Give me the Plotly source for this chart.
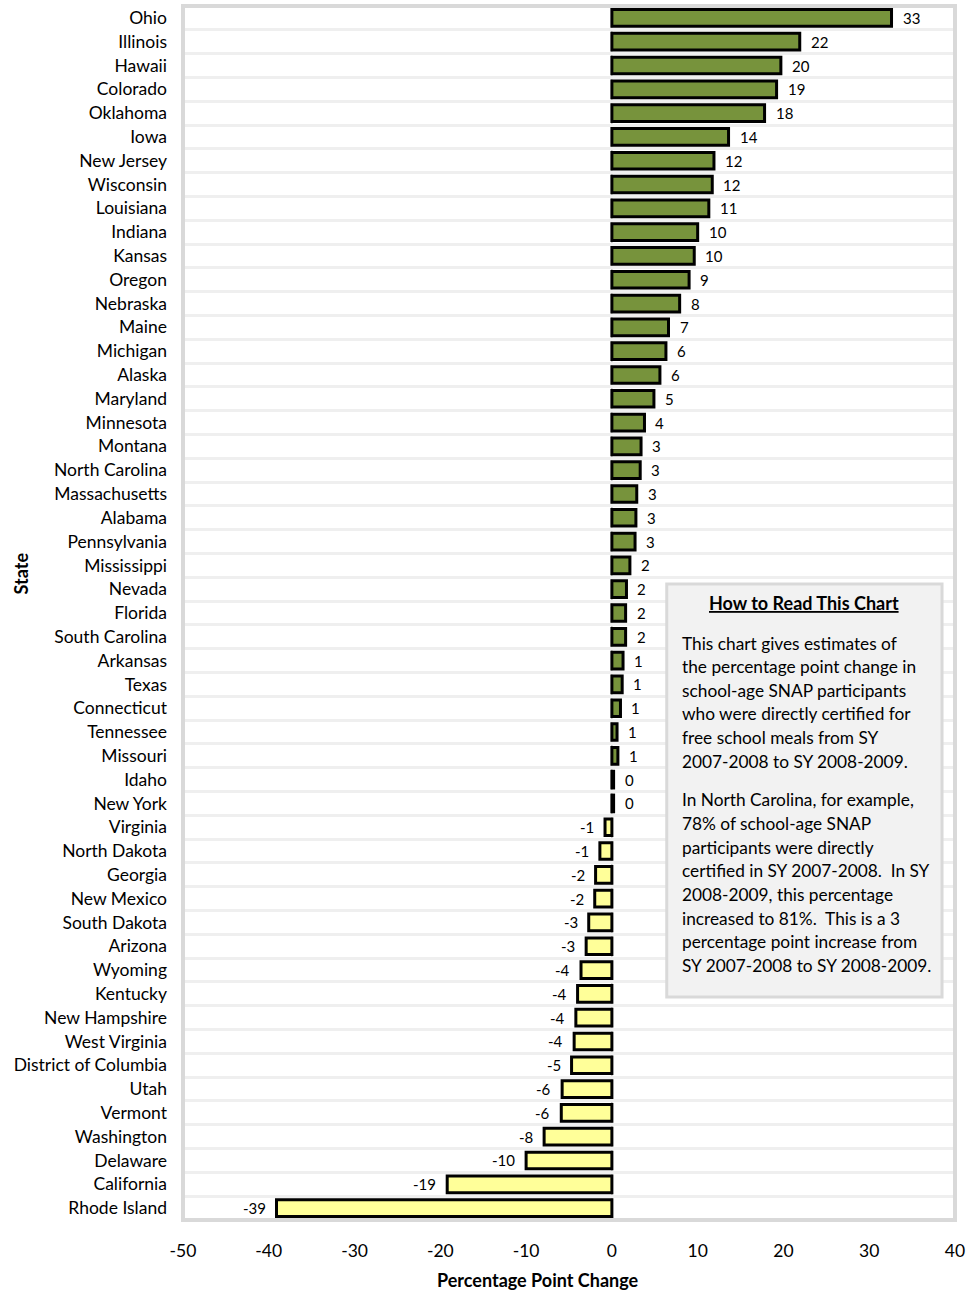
import plotly.graph_objects as go

# Percentage point change in direct certification, SY 2007-08 to SY 2008-09
states = [
    "Ohio", "Illinois", "Hawaii", "Colorado", "Oklahoma", "Iowa", "New Jersey",
    "Wisconsin", "Louisiana", "Indiana", "Kansas", "Oregon", "Nebraska", "Maine",
    "Michigan", "Alaska", "Maryland", "Minnesota", "Montana", "North Carolina",
    "Massachusetts", "Alabama", "Pennsylvania", "Mississippi", "Nevada", "Florida",
    "South Carolina", "Arkansas", "Texas", "Connecticut", "Tennessee", "Missouri",
    "Idaho", "New York", "Virginia", "North Dakota", "Georgia", "New Mexico",
    "South Dakota", "Arizona", "Wyoming", "Kentucky", "New Hampshire",
    "West Virginia", "District of Columbia", "Utah", "Vermont", "Washington",
    "Delaware", "California", "Rhode Island",
]
changes = [
    32.6, 21.9, 19.7, 19.2, 17.8, 13.6, 11.9,
    11.7, 11.3, 10.0, 9.6, 9.0, 7.9, 6.6,
    6.3, 5.6, 4.9, 3.8, 3.4, 3.3,
    2.9, 2.8, 2.7, 2.1, 1.7, 1.6,
    1.6, 1.3, 1.2, 1.0, 0.6, 0.7,
    0.2, 0.2, -0.8, -1.4, -1.9, -2.0,
    -2.7, -3.0, -3.6, -4.0, -4.2,
    -4.4, -4.7, -5.8, -5.9, -7.9,
    -10.0, -19.2, -39.1,
]
x_ticks = [-50, -40, -30, -20, -10, 0, 10, 20, 30, 40]

note_title = "How to Read This Chart"
note_lines_1 = [
    "This chart gives estimates of",
    "the percentage point change in",
    "school-age SNAP participants",
    "who were directly certified for",
    "free school meals from SY",
    "2007-2008 to SY 2008-2009.",
]
note_lines_2 = [
    "In North Carolina, for example,",
    "78% of school-age SNAP",
    "participants were directly",
    "certified in SY 2007-2008.  In SY",
    "2008-2009, this percentage",
    "increased to 81%.  This is a 3",
    "percentage point increase from",
    "SY 2007-2008 to SY 2008-2009.",
]

FONT = "Lato"
W, H = 971, 1292
ML, MR, MT, MB = 183, 14, 6, 72
PW, PH = W - ML - MR, H - MT - MB


def px_x(p):
    return (p - ML) / PW


def px_y(p):
    return (MT + PH - p) / PH


colors = ["#77933C" if v >= 0 else "#FFFF99" for v in changes]
labels = [f"{v:.0f}" for v in changes]

fig = go.Figure()
fig.add_trace(go.Bar(
    x=changes, y=states, orientation="h",
    marker=dict(color=colors, line=dict(color="black", width=3)),
    hoverinfo="x+y",
))

annotations = []
for s, v, lab in zip(states, changes, labels):
    annotations.append(dict(
        x=v, y=s, xref="x", yref="y", text=lab, showarrow=False,
        xanchor="left" if v >= 0 else "right",
        xshift=9 if v >= 0 else -9,
        font=dict(family=FONT, size=15, color="black"),
    ))

# Explanatory note box
annotations.append(dict(
    x=px_x(806), y=px_y(603), xref="paper", yref="paper",
    text=f"<b><u>{note_title}</u></b>", showarrow=False,
    xanchor="center", yanchor="middle",
    font=dict(family=FONT, size=18, color="black"),
))
for i, line in enumerate(note_lines_1):
    annotations.append(dict(
        x=px_x(681), y=px_y(643 + i * 23.6), xref="paper", yref="paper",
        text=line, showarrow=False, xanchor="left", yanchor="middle",
        font=dict(family=FONT, size=17.3, color="black"),
    ))
for i, line in enumerate(note_lines_2):
    annotations.append(dict(
        x=px_x(681), y=px_y(800 + i * 23.6), xref="paper", yref="paper",
        text=line, showarrow=False, xanchor="left", yanchor="middle",
        font=dict(family=FONT, size=17.3, color="black"),
    ))

# Axis titles
annotations.append(dict(
    x=px_x(539), y=px_y(1280), xref="paper", yref="paper",
    text="<b>Percentage Point Change</b>", showarrow=False,
    xanchor="center", yanchor="middle",
    font=dict(family=FONT, size=18, color="black"),
))
annotations.append(dict(
    x=px_x(21), y=px_y(573), xref="paper", yref="paper",
    text="<b>State</b>", showarrow=False, textangle=-90,
    xanchor="center", yanchor="middle",
    font=dict(family=FONT, size=18, color="black"),
))

shapes = [
    # zero line
    dict(type="line", xref="x", yref="paper", x0=0, x1=0, y0=0, y1=1,
         line=dict(color="#a6a6a6", width=1), layer="below"),
    # plot frame
    dict(type="rect", xref="paper", yref="paper", x0=0, x1=1, y0=0, y1=1,
         line=dict(color="#d9d9d9", width=4), layer="above"),
    # note box
    dict(type="rect", xref="paper", yref="paper",
         x0=px_x(668), x1=px_x(944), y0=px_y(997), y1=px_y(584),
         fillcolor="#f2f2f2", line=dict(color="#d9d9d9", width=3), layer="above"),
]

fig.update_layout(
    width=W, height=H,
    margin=dict(l=ML, r=MR, t=MT, b=MB),
    paper_bgcolor="white", plot_bgcolor="white",
    showlegend=False, bargap=0.3,
    font=dict(family=FONT, size=16, color="black"),
    annotations=annotations, shapes=shapes,
    xaxis=dict(
        range=[-50, 40], tickvals=x_ticks, ticktext=[str(t) for t in x_ticks],
        showgrid=False, zeroline=False, showline=False, ticks="",
        ticklabelstandoff=18, tickfont=dict(family=FONT, size=17.5, color="black"),
        fixedrange=True,
    ),
    yaxis=dict(
        categoryorder="array", categoryarray=states, autorange="reversed",
        showgrid=True, gridcolor="#efefef", gridwidth=3, tickson="boundaries",
        zeroline=False, showline=False, ticks="", ticklabelstandoff=15,
        tickfont=dict(family=FONT, size=17.5, color="black"),
        fixedrange=True,
    ),
)

fig.write_html("out.html")
